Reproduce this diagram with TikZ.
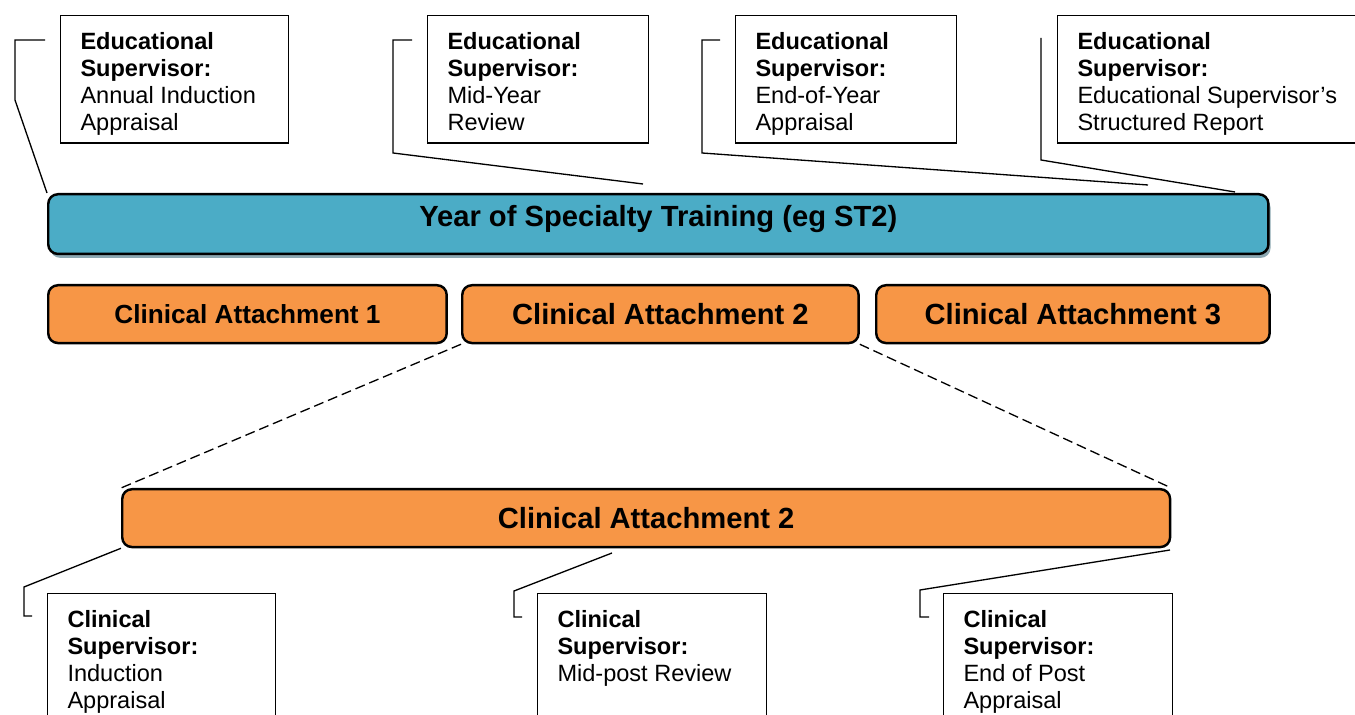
\documentclass[tikz,border=0pt]{standalone}
\usepackage{fontspec}
\setmainfont{Liberation Sans}
\usetikzlibrary{shadows}

\definecolor{yearblue}{HTML}{4BACC6}
\definecolor{postorange}{HTML}{F79646}
\definecolor{yearshade}{RGB}{140,168,178}

% text of a supervisor box: width, height, bold head, rest
\newcommand{\notetext}[4]{\parbox[t][#2][t]{#1}{\raggedright\textbf{#3}\\#4}}

\begin{document}
\begin{tikzpicture}[x=0.02cm, y=-0.02cm,
  note/.style={draw, line width=0.75pt, anchor=north west, inner xsep=11.3pt, inner ysep=9.6pt,
    font=\fontsize{13.4}{15.3}\selectfont},
  bar/.style={draw, line width=1.4pt, rounded corners=5.5pt, anchor=north west, inner sep=0pt,
    minimum height=32.9pt, fill=postorange, font=\bfseries\fontsize{16.6}{19}\selectfont},
  callout/.style={line width=0.75pt}]
 \useasboundingbox (0,0) rectangle (1355,715);
 \clip (0,0) rectangle (1355,715);
 \fill[white] (0,0) rectangle (1355,715);

 % educational supervisor
 \node[note] (es1) at (60,15) {\notetext{107pt}{53.3pt}{Educational\\Supervisor:}{Annual Induction\\Appraisal}};
 \node[note] (es2) at (427,15) {\notetext{103.2pt}{53.3pt}{Educational\\Supervisor:}{Mid-Year\\Review}};
 \node[note] (es3) at (735,15) {\notetext{103.2pt}{53.3pt}{Educational\\Supervisor:}{End-of-Year\\Appraisal}};
 \node[note] (es4) at (1057,15) {\notetext{149pt}{53.3pt}{Educational\\Supervisor:}{Educational Supervisor’s\\Structured Report}};

 % the year and its posts
 \node[bar, fill=yearblue, minimum width=694.5pt, minimum height=34pt, text depth=9.2pt,
   drop shadow={shadow xshift=1.2pt, shadow yshift=-2.2pt, fill=yearshade, opacity=1}] (year) at (47,193) {Year of Specialty Training (eg ST2)};
 \node[bar, minimum width=226.8pt, font=\bfseries\fontsize{14.9}{17}\selectfont] (ca1) at (47,284) {Clinical Attachment 1};
 \node[bar, minimum width=225.6pt] (ca2) at (461,284) {Clinical Attachment 2};
 \node[bar, minimum width=223.9pt] (ca3) at (875,284) {Clinical Attachment 3};
 \node[bar, minimum width=596.4pt] (post) at (121,488) {Clinical Attachment 2};

 % clinical supervisor
 \node[note] (cs1) at (47,593) {\notetext{107pt}{70pt}{Clinical\\Supervisor:}{Induction\\Appraisal}};
 \node[note] (cs2) at (537,593) {\notetext{107.7pt}{70pt}{Clinical\\Supervisor:}{Mid-post Review}};
 \node[note] (cs3) at (943,593) {\notetext{107.7pt}{70pt}{Clinical\\Supervisor:}{End of Post\\Appraisal}};

 \coordinate (es1tip) at (45,40);
 \coordinate (es1bend) at (15,100);
 \coordinate (es2tip) at (412,40);
 \coordinate (es2bend) at (393,153);
 \coordinate (es2end) at (643,184);
 \coordinate (es3tip) at (720,40);
 \coordinate (es3bend) at (702,153);
 \coordinate (es3end) at (1148,185);
 \coordinate (es4tip) at (1041,38);
 \coordinate (es4bend) at (1041,160);
 \coordinate (es4end) at (1235,192);
 \draw[callout] (es1tip) -| (es1bend) -- (year.north west);
 \draw[callout] (es2tip) -| (es2bend) -- (es2end);
 \draw[callout] (es3tip) -| (es3bend) -- (es3end);
 \draw[callout] (es4tip) -- (es4bend) -- (es4end);

 \draw[line width=0.75pt, dash pattern=on 5.7pt off 2.8pt] (ca2.south west) -- (post.north west);
 \draw[line width=0.75pt, dash pattern=on 5.7pt off 2.8pt] (ca2.south east) -- (post.north east);

 \coordinate (cs1bend) at (24,587);
 \coordinate (cs1tip) at (32,616);
 \coordinate (cs2start) at (612,553);
 \coordinate (cs2bend) at (514,591);
 \coordinate (cs2tip) at (522,617);
 \coordinate (cs3start) at (1170,550);
 \coordinate (cs3bend) at (920,590);
 \coordinate (cs3tip) at (929,617);
 \draw[callout] (post.south west) -- (cs1bend) |- (cs1tip);
 \draw[callout] (cs2start) -- (cs2bend) |- (cs2tip);
 \draw[callout] (cs3start) -- (cs3bend) |- (cs3tip);
\end{tikzpicture}
\end{document}
